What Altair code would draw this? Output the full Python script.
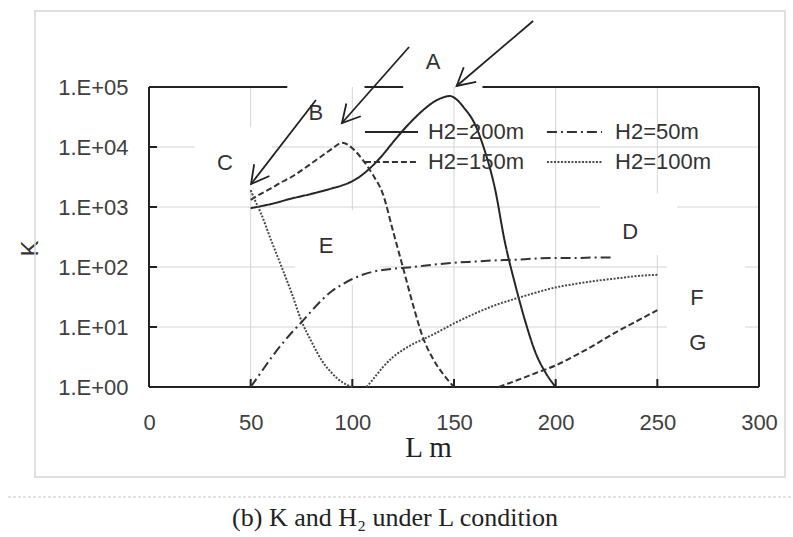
import math
import altair as alt
import pandas as pd

# ---------------- data ----------------
SERIES = ["H2=200m", "H2=150m", "H2=100m", "H2=50m"]

L_200 = [50, 60, 70, 80, 90, 95, 100, 105, 110, 115, 120, 125, 130, 135, 140, 145, 148,
         151, 155, 160, 165, 170, 175, 180, 185, 190, 195, 200]
LOG_K_200 = [2.98, 3.05, 3.14, 3.22, 3.31, 3.36, 3.43, 3.54, 3.69, 3.87, 4.08, 4.28, 4.46,
             4.62, 4.75, 4.83, 4.85, 4.8, 4.65, 4.4, 3.95, 3.33, 2.42, 1.72, 1.1, 0.58,
             0.24, 0.0]

L_150A = [50, 55, 60, 65, 70, 75, 80, 85, 90, 95, 100, 105, 110, 115, 120, 125, 130,
          135, 140, 145, 150]
LOG_K_150A = [3.12, 3.22, 3.31, 3.41, 3.5, 3.61, 3.73, 3.85, 3.97, 4.07, 3.98, 3.79, 3.54,
              3.22, 2.6, 1.98, 1.35, 0.8, 0.45, 0.2, 0.0]
L_150B = [172, 180, 190, 200, 210, 220, 230, 240, 250]
LOG_K_150B = [0.0, 0.1, 0.23, 0.36, 0.53, 0.72, 0.92, 1.1, 1.28]

L_100A = [50, 52, 55, 60, 65, 70, 75, 80, 85, 90, 95, 100]
LOG_K_100A = [3.28, 3.12, 2.9, 2.45, 2.02, 1.58, 1.1, 0.75, 0.44, 0.23, 0.08, 0.0]
L_100B = [107, 110, 115, 120, 125, 130, 135, 140, 150, 160, 170, 180, 190, 200, 210,
          220, 230, 240, 250]
LOG_K_100B = [0.0, 0.12, 0.33, 0.5, 0.62, 0.72, 0.8, 0.88, 1.06, 1.22, 1.36, 1.47, 1.57,
              1.66, 1.72, 1.77, 1.81, 1.85, 1.87]

L_50 = [50, 55, 60, 65, 70, 75, 80, 85, 90, 95, 100, 105, 110, 120, 130, 140, 150, 160,
        170, 180, 190, 200, 210, 220, 227]
LOG_K_50 = [0.0, 0.24, 0.48, 0.7, 0.9, 1.08, 1.27, 1.45, 1.6, 1.71, 1.8, 1.87, 1.92, 1.97,
            2.0, 2.04, 2.07, 2.09, 2.11, 2.12, 2.14, 2.15, 2.15, 2.16, 2.16]

X_TICKS = [0, 50, 100, 150, 200, 250, 300]
Y_TICKS = [1, 10, 100, 1000, 10000, 100000]

# annotations (data coordinates: L, log10 K)
LETTERS = ["A", "B", "C", "D", "E", "F", "G"]
LETTER_L = [139.7, 82.1, 37.4, 236.6, 87.1, 269.5, 269.9]
LETTER_LOGK = [5.417, 4.567, 3.733, 2.583, 2.35, 1.48, 0.733]

ARROW_TAIL_L = [188.9, 127.9, 82.1]
ARROW_TAIL_LOGK = [6.1, 5.667, 4.783]
ARROW_TIP_L = [151.3, 94.9, 50.2]
ARROW_TIP_LOGK = [5.017, 4.4, 3.383]

LEGEND_ORDER = ["H2=200m", "H2=150m", "H2=50m", "H2=100m"]
LEGEND_L1 = [106.2, 106.2, 195.7, 195.7]
LEGEND_L2 = [132.3, 132.3, 222.8, 222.8]
LEGEND_TEXT_L = [137.2, 137.2, 229.2, 229.2]
LEGEND_LOGK = [4.25, 3.75, 4.25, 3.75]

TOP_BORDER_L1 = [0, 106, 164]
TOP_BORDER_L2 = [68, 125, 300]

# white label boxes that interrupt the gridlines
BOX_L1 = [22.6, 221.8, 71.8, 254.8]
BOX_L2 = [60.5, 259.7, 113.6, 293.1]
BOX_LOGK1 = [3.28, 2.2, 1.7, 0.37]
BOX_LOGK2 = [4.33, 3.23, 2.95, 2.2]

CAPTION = "(b) K and H\u2082 under L condition"

# ---------------- layout ----------------
W, H = 610, 300
L_MAX, DECADES = 300.0, 5.0
SANS = "Liberation Sans"
SERIF = "Liberation Serif"

rows = []
for name, seg, Ls, lgs in [
    ("H2=200m", "a", L_200, LOG_K_200),
    ("H2=150m", "a", L_150A, LOG_K_150A),
    ("H2=150m", "b", L_150B, LOG_K_150B),
    ("H2=100m", "a", L_100A, LOG_K_100A),
    ("H2=100m", "b", L_100B, LOG_K_100B),
    ("H2=50m", "a", L_50, LOG_K_50),
]:
    for l, g in zip(Ls, lgs):
        rows.append({"series": name, "seg": name + seg, "L": l, "K": 10 ** g})
df = pd.DataFrame(rows)

x_scale = alt.Scale(domain=[0, 300], nice=False, zero=False)
y_scale = alt.Scale(type="log", domain=[1, 100000], nice=False)
dash_scale = alt.Scale(domain=SERIES, range=[[1, 0], [6, 3], [2, 1.5], [10, 4, 2, 4]])
color_scale = alt.Scale(domain=SERIES, range=["#262626", "#333333", "#4a4a4a", "#333333"])

x_axis = alt.Axis(values=X_TICKS, grid=False, domain=False, ticks=False, tickSize=0,
                  labelPadding=25, labelFont=SANS, labelFontSize=22, labelColor="#404040",
                  labelFlush=False, labelOverlap=False,
                  title="L m", titleFont=SERIF, titleFontSize=29, titleFontWeight="normal",
                  titleColor="#222222", titleX=279, titleY=60, titleAlign="center",
                  titleBaseline="middle")
y_axis = alt.Axis(values=Y_TICKS, labelExpr="'1.E+0' + round(log(datum.value) / LN10)",
                  grid=False, domain=False, ticks=False, tickSize=0, labelPadding=21,
                  labelFont=SANS, labelFontSize=22, labelColor="#404040",
                  labelFlush=False, labelOverlap=False,
                  title="K", titleFont=SANS, titleFontSize=24, titleFontWeight="normal",
                  titleColor="#333333", titleAngle=270, titleX=-119, titleY=161,
                  titleAlign="center", titleBaseline="middle")


def X(field):
    return alt.X(field, scale=x_scale, axis=x_axis)


def Y(field):
    return alt.Y(field, scale=y_scale, axis=y_axis)


one = pd.DataFrame({"a": [0]})

# outer frame and separator
frame = alt.Chart(one).mark_rect(fillOpacity=0, stroke="#d6d6d6", strokeWidth=1.5).encode(
    x=alt.value(-114), x2=alt.value(636), y=alt.value(-76), y2=alt.value(390))
sep = alt.Chart(one).mark_rule(stroke="#c8c8c8", strokeWidth=1.2, strokeDash=[3, 2]).encode(
    x=alt.value(-141), x2=alt.value(644), y=alt.value(410))
caption = alt.Chart(pd.DataFrame({"t": [CAPTION]})).mark_text(
    font=SERIF, fontSize=26, color="#222222", align="center", baseline="middle").encode(
    x=alt.value(246), y=alt.value(431), text="t:N")

# gridlines
gx = alt.Chart(pd.DataFrame({"L": X_TICKS[1:-1]})).mark_rule(stroke="#d4d4d4", strokeWidth=1).encode(
    x=X("L:Q"), y=alt.value(0), y2=alt.value(H))
gy = alt.Chart(pd.DataFrame({"K": Y_TICKS[1:-1]})).mark_rule(stroke="#d4d4d4", strokeWidth=1).encode(
    y=Y("K:Q"), x=alt.value(0), x2=alt.value(W))

boxes_df = pd.DataFrame({"L1": BOX_L1, "L2": BOX_L2,
                         "K1": [10 ** v for v in BOX_LOGK1], "K2": [10 ** v for v in BOX_LOGK2]})
boxes = alt.Chart(boxes_df).mark_rect(fill="white").encode(
    x=X("L1:Q"), x2="L2:Q", y=Y("K1:Q"), y2="K2:Q")

# inward ticks
tx = alt.Chart(pd.DataFrame({"L": X_TICKS[1:-1]})).mark_rule(stroke="#222222", strokeWidth=2).encode(
    x=X("L:Q"), y=alt.value(H), y2=alt.value(H - 8))
ty = alt.Chart(pd.DataFrame({"K": Y_TICKS[1:-1]})).mark_rule(stroke="#222222", strokeWidth=2).encode(
    y=Y("K:Q"), x=alt.value(0), x2=alt.value(8))

# plot borders
left_b = alt.Chart(one).mark_rule(stroke="#222222", strokeWidth=2).encode(
    x=alt.value(0), y=alt.value(0), y2=alt.value(H))
right_b = alt.Chart(one).mark_rule(stroke="#222222", strokeWidth=2).encode(
    x=alt.value(W), y=alt.value(0), y2=alt.value(H))
bottom_b = alt.Chart(one).mark_rule(stroke="#222222", strokeWidth=2).encode(
    x=alt.value(0), x2=alt.value(W), y=alt.value(H))
top_b = alt.Chart(pd.DataFrame({"L1": TOP_BORDER_L1, "L2": TOP_BORDER_L2})).mark_rule(
    stroke="#222222", strokeWidth=2).encode(
    x=X("L1:Q"), x2="L2:Q", y=alt.value(0))

# curves
lines = alt.Chart(df).mark_line(strokeWidth=2, interpolate="monotone").encode(
    x=X("L:Q"),
    y=Y("K:Q"),
    detail="seg:N",
    strokeDash=alt.StrokeDash("series:N", scale=dash_scale, legend=None),
    color=alt.Color("series:N", scale=color_scale, legend=None),
)

# hand-placed legend (as in the original figure)
leg_df = pd.DataFrame({"series": LEGEND_ORDER, "L1": LEGEND_L1, "L2": LEGEND_L2,
                       "LT": LEGEND_TEXT_L, "K": [10 ** v for v in LEGEND_LOGK]})
leg_lines = alt.Chart(leg_df).mark_rule(strokeWidth=2).encode(
    x=X("L1:Q"), x2="L2:Q", y=Y("K:Q"),
    strokeDash=alt.StrokeDash("series:N", scale=dash_scale, legend=None),
    color=alt.Color("series:N", scale=color_scale, legend=None),
)
leg_text = alt.Chart(leg_df).mark_text(font=SANS, fontSize=22, color="#333333",
                                       align="left", baseline="middle").encode(
    x=X("LT:Q"), y=Y("K:Q"), text="series:N")

# letters
let_df = pd.DataFrame({"t": LETTERS, "L": LETTER_L, "K": [10 ** v for v in LETTER_LOGK]})
letters = alt.Chart(let_df).mark_text(font=SANS, fontSize=22, color="#333333",
                                      align="center", baseline="middle").encode(
    x=X("L:Q"), y=Y("K:Q"), text="t:N")

# arrows
def px(l):
    return l / L_MAX * W


def py(lg):
    return H - lg / DECADES * H


angles = []
for l1, g1, l2, g2 in zip(ARROW_TAIL_L, ARROW_TAIL_LOGK, ARROW_TIP_L, ARROW_TIP_LOGK):
    dx = px(l2) - px(l1)
    dy = py(g2) - py(g1)
    angles.append(math.degrees(math.atan2(dx, -dy)) % 360)

arr_df = pd.DataFrame({
    "L1": ARROW_TAIL_L, "K1": [10 ** v for v in ARROW_TAIL_LOGK],
    "L2": ARROW_TIP_L, "K2": [10 ** v for v in ARROW_TIP_LOGK],
    "ang": angles,
})
shafts = alt.Chart(arr_df).mark_rule(stroke="#222222", strokeWidth=1.8).encode(
    x=X("L1:Q"), x2="L2:Q", y=Y("K1:Q"), y2="K2:Q")
heads = alt.Chart(arr_df).mark_point(
    shape="M -0.55 1 L 0 0 L 0.55 1", filled=False, size=1230,
    stroke="#222222", strokeWidth=1.8, opacity=1).encode(
    x=X("L2:Q"), y=Y("K2:Q"),
    angle=alt.Angle("ang:Q", scale=None))

chart = alt.layer(
    frame, sep, caption, gx, gy, boxes, tx, ty, left_b, right_b, bottom_b, top_b,
    lines, leg_lines, leg_text, letters, shafts, heads,
).properties(
    width=W, height=H,
    padding={"left": 149, "top": 87, "right": 34, "bottom": 150},
    autosize=alt.AutoSizeParams(type="none"),
    background="white",
).configure_view(strokeWidth=0)

chart.save("out.html", embed_options={"renderer": "svg", "actions": False})
